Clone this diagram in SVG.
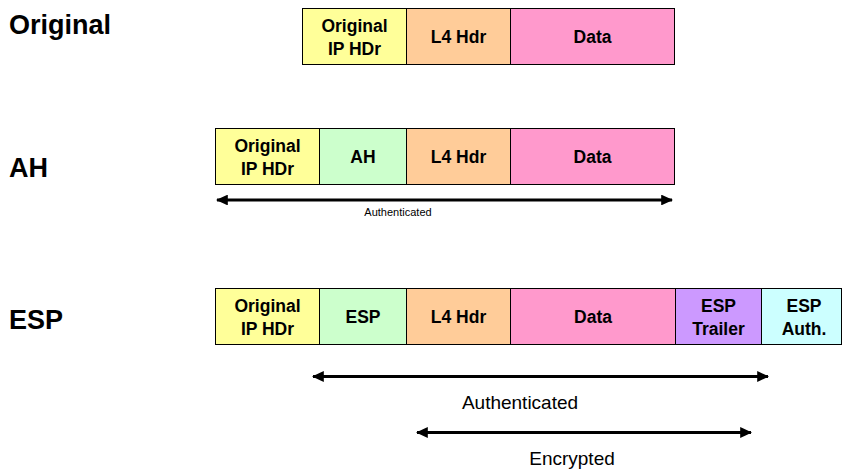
<svg xmlns="http://www.w3.org/2000/svg" width="842" height="470" viewBox="0 0 842 470">
<style>
.box{stroke:#000;stroke-width:1}
.ip{fill:#FFFF99}.ah{fill:#CCFFCC}.l4{fill:#FFCC99}.data{fill:#FF99CC}.tr{fill:#CC99FF}.au{fill:#CCFFFF}
.lbl{font-family:"Liberation Sans",Arial,sans-serif;font-weight:bold;font-size:17.5px;text-anchor:middle;fill:#000}
.row{font-family:"Liberation Sans",Arial,sans-serif;font-weight:bold;font-size:27px;fill:#000}
.cap{font-family:"Liberation Sans",Arial,sans-serif;font-size:19px;text-anchor:middle;fill:#000}
.arr{stroke:#000;stroke-width:3;fill:none;marker-start:url(#ah);marker-end:url(#ah)}
</style>
<defs>
<marker id="ah" viewBox="0 0 10 10" refX="9" refY="5" markerWidth="4" markerHeight="3.6" orient="auto-start-reverse" markerUnits="strokeWidth" preserveAspectRatio="none">
<path d="M0,0 L10,5 L0,10 z" fill="#000"/>
</marker>
</defs>
<rect width="842" height="470" fill="#fff"/>
<text class="row" x="9" y="34">Original</text>
<text class="row" x="9" y="177">AH</text>
<text class="row" x="9" y="329">ESP</text>

<g id="orig-row">
<g id="orig-ip"><rect class="box ip" x="302.5" y="8.5" width="104" height="56"/><text class="lbl" x="354.5" y="32">Original</text><text class="lbl" x="354.5" y="55">IP HDr</text></g>
<g id="orig-l4"><rect class="box l4" x="406.5" y="8.5" width="104" height="56"/><text class="lbl" x="458.5" y="43">L4 Hdr</text></g>
<g id="orig-data"><rect class="box data" x="510.5" y="8.5" width="164" height="56"/><text class="lbl" x="592.5" y="43">Data</text></g>
</g>

<g id="ah-row">
<g id="ah-ip"><rect class="box ip" x="215.5" y="128.5" width="104" height="56"/><text class="lbl" x="267.5" y="152">Original</text><text class="lbl" x="267.5" y="175">IP HDr</text></g>
<g id="ah-ah"><rect class="box ah" x="319.5" y="128.5" width="87" height="56"/><text class="lbl" x="363" y="163">AH</text></g>
<g id="ah-l4"><rect class="box l4" x="406.5" y="128.5" width="104" height="56"/><text class="lbl" x="458.5" y="163">L4 Hdr</text></g>
<g id="ah-data"><rect class="box data" x="510.5" y="128.5" width="164" height="56"/><text class="lbl" x="592.5" y="163">Data</text></g>
</g>

<g id="esp-row">
<g id="esp-ip"><rect class="box ip" x="215.5" y="288.5" width="104" height="56"/><text class="lbl" x="267.5" y="312">Original</text><text class="lbl" x="267.5" y="335">IP HDr</text></g>
<g id="esp-esp"><rect class="box ah" x="319.5" y="288.5" width="87" height="56"/><text class="lbl" x="363" y="323">ESP</text></g>
<g id="esp-l4"><rect class="box l4" x="406.5" y="288.5" width="104" height="56"/><text class="lbl" x="458.5" y="323">L4 Hdr</text></g>
<g id="esp-data"><rect class="box data" x="510.5" y="288.5" width="165" height="56"/><text class="lbl" x="593" y="323">Data</text></g>
<g id="esp-trailer"><rect class="box tr" x="675.5" y="288.5" width="86" height="56"/><text class="lbl" x="718.5" y="312">ESP</text><text class="lbl" x="718.5" y="335">Trailer</text></g>
<g id="esp-auth"><rect class="box au" x="761.5" y="288.5" width="80" height="56"/><text class="lbl" x="804" y="312">ESP</text><text class="lbl" x="804" y="335">Auth.</text></g>
</g>

<g id="connectors">
<line class="arr" x1="217" y1="200" x2="672" y2="200"/>
<line class="arr" x1="313" y1="376.5" x2="768" y2="376.5"/>
<line class="arr" x1="417" y1="432.5" x2="751" y2="432.5"/>
</g>

<text class="cap" x="398" y="216" style="font-size:11px">Authenticated</text>
<text class="cap" x="520" y="409">Authenticated</text>
<text class="cap" x="572" y="465">Encrypted</text>
</svg>
